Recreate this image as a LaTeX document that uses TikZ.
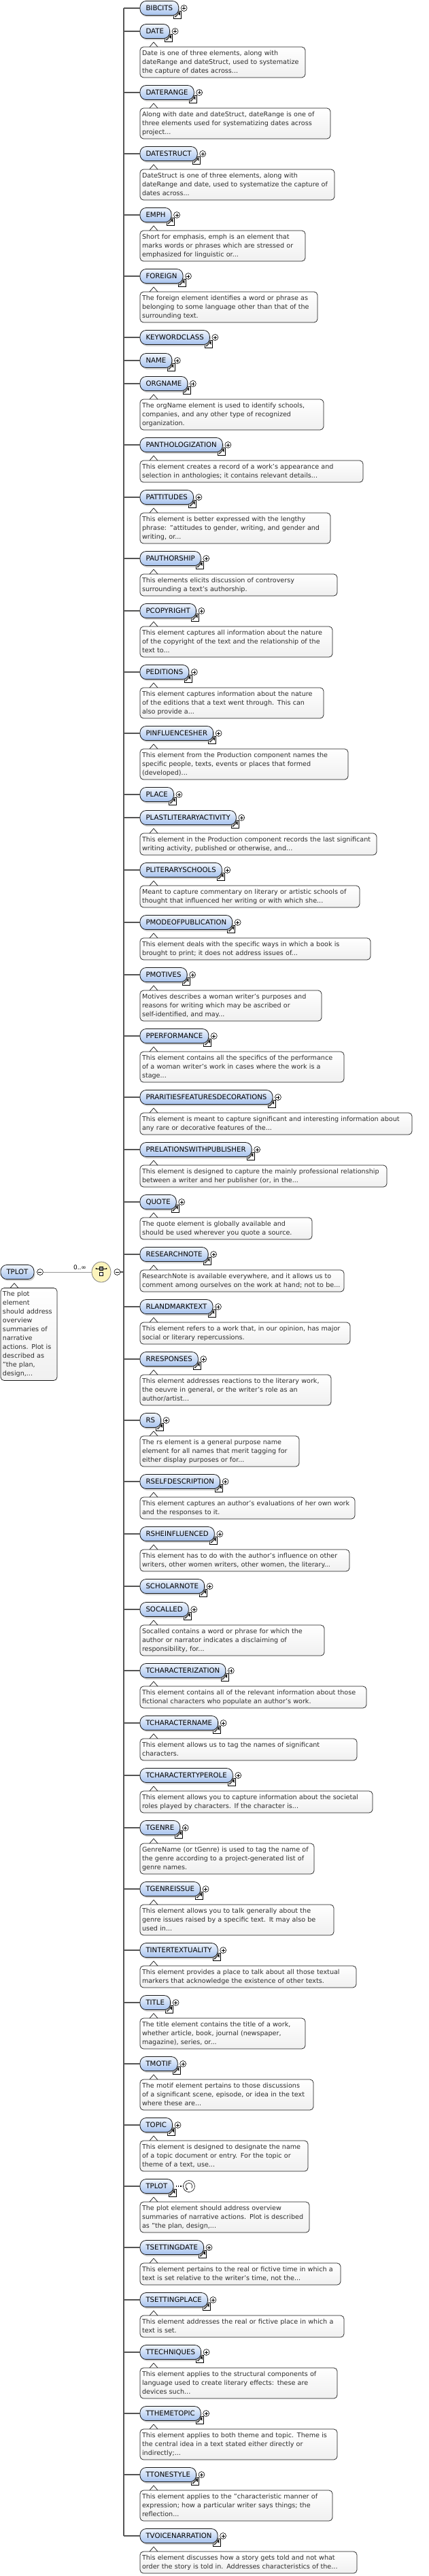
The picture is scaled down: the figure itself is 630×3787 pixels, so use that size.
\documentclass[tikz,border=0pt]{standalone}
\usepackage{fontspec}
\setmainfont{DejaVu Sans}
\usepackage{tikz}
\usetikzlibrary{shapes.geometric,shadows,arrows.meta,positioning}
\definecolor{pilltop}{RGB}{241,246,253}
\definecolor{pillbot}{RGB}{166,194,238}
\definecolor{docbot}{RGB}{240,240,240}
\definecolor{doctext}{RGB}{45,45,45}
\definecolor{trunkgray}{RGB}{85,85,85}
\definecolor{seqfill}{RGB}{252,244,188}

\begin{document}
\begin{tikzpicture}[
    x=1pt, y=1pt,
    pill/.style={draw=black!90, line width=0.8pt, rounded corners=9pt, top color=pilltop, bottom color=pillbot,
        minimum height=21pt, inner xsep=8.5pt, inner ysep=0pt, outer sep=0pt, text height=7.5pt, text depth=0pt,
        anchor=west, font=\fontsize{10.2}{12}\selectfont,
        drop shadow={shadow xshift=1.5pt, shadow yshift=-2.5pt, fill=black!35}},
    refmark/.style={append after command={\pgfextra{\let\pillnode\tikzlastnode
        \path ([xshift=-1.5pt,yshift=1pt]\pillnode.south east) coordinate (rm);
        \draw[fill=white, line width=0.6pt] ([shift={(-5.5pt,-5.5pt)}]rm) rectangle ([shift={(5.5pt,5.5pt)}]rm);
        \draw[line width=1.5pt] ([shift={(-3.5pt,-3.5pt)}]rm) -- ([shift={(1pt,1pt)}]rm);
        \fill ([shift={(3.8pt,3.8pt)}]rm) -- ([shift={(3.8pt,-1.4pt)}]rm) -- ([shift={(-1.4pt,3.8pt)}]rm) -- cycle;}}},
    plusmark/.style={append after command={\pgfextra{\let\pillnode\tikzlastnode
        \path ([xshift=8pt]\pillnode.east) coordinate (pm);
        \draw[fill=white, line width=0.6pt] (pm) circle[radius=4.5pt];
        \draw[line width=0.6pt] ([xshift=-2.5pt]pm) -- ([xshift=2.5pt]pm) ([yshift=-2.5pt]pm) -- ([yshift=2.5pt]pm);}}},
    elem/.style={pill, refmark, plusmark},
    doc/.style={draw=black!90, line width=0.7pt, rounded corners=5pt, top color=white, bottom color=docbot,
        anchor=north west, inner xsep=3pt, inner ysep=3pt, outer sep=0pt, align=left, text=doctext,
        font=\fontsize{9.6}{13}\selectfont, execute at begin node=\strut, execute at end node=\strut,
        append after command={\pgfextra{\let\docnode\tikzlastnode
        \fill[white] ([shift={(14.3pt,-0.6pt)}]\docnode.north west) -- ++(0,0.6) -- ++(5.7,6.4) -- ++(5.7,-6.4) -- ++(0,-0.6) -- cycle;
        \draw[line width=0.7pt, black!90] ([xshift=14pt]\docnode.north west) -- ++(6,7) -- ++(6,-7);}}},
    minus/.style={circle, draw, fill=white, line width=0.6pt, minimum size=9pt, inner sep=0pt,
        path picture={\draw[line width=0.6pt] ([xshift=-2.5pt]path picture bounding box.center) -- ([xshift=2.5pt]path picture bounding box.center);}},
    seqsym/.style={ellipse, draw=black!50, line width=0.8pt, fill=seqfill, minimum width=28pt, minimum height=30pt, inner sep=0pt},
    recur/.style={circle, draw, fill=white, line width=0.6pt, minimum size=17pt, inner sep=0pt},
    occurs/.style={font=\fontsize{9}{10}\selectfont, inner sep=0pt},
    trunk/.style={draw=trunkgray, line width=2pt},
    branch/.style={draw=trunkgray, line width=1.3pt},
    link/.style={draw=black!40, line width=0.6pt}
]
\useasboundingbox (0,0) rectangle (630,-3787);

% root element and sequence
\coordinate (trunktop) at (182,-12);
\coordinate (trunkbot) at (182,-3728);
\draw[trunk] (trunktop) -- (trunkbot);

\node[pill] (tplotroot) at (1,-1870) {TPLOT};
\node[minus] (rootminus) at ([xshift=9pt]tplotroot.east) {};
\node[doc, text width=77pt] (tplotrootdoc) at ([yshift=-13pt]tplotroot.south west) {The plot\\element\\should address\\overview\\summaries of\\narrative\\actions. Plot is\\described as\\"the plan,\\design,...};
\node[seqsym] (seq) at (149,-1870) {};
\node[minus] (seqminus) at ([xshift=9pt]seq.east) {};
\node[occurs] (occ) at (117.5,-1863) {0..∞};
\draw[link] (rootminus) -- (seq);
\draw[branch] (seqminus.east) -- (seqminus.east -| trunktop);
\draw[line width=0.6pt] ([shift={(-7.5pt,5pt)}]seq.center) -- ([shift={(7.5pt,5pt)}]seq.center);
\fill ([shift={(-7.5pt,5pt)}]seq.center) circle[radius=1.1pt] ([shift={(7.5pt,5pt)}]seq.center) circle[radius=1.1pt];
\draw[fill=black!45, line width=0.5pt] ([shift={(-2.5pt,2.5pt)}]seq.center) rectangle ([shift={(2.5pt,7.5pt)}]seq.center);
\draw[fill=white, line width=0.5pt] ([shift={(-2.5pt,-5.5pt)}]seq.center) rectangle ([shift={(2.5pt,-0.5pt)}]seq.center);

% children
\node[elem] (bibcits) at (206,-12) {BIBCITS};
\draw[branch] (bibcits.west -| trunktop) -- (bibcits.west);

\node[elem] (date) at (206,-46) {DATE};
\node[doc, text width=237pt] (datedoc) at ([yshift=-12.5pt]date.south west) {Date is one of three elements, along with\\dateRange and dateStruct, used to systematize\\the capture of dates across...};
\draw[branch] (date.west -| trunktop) -- (date.west);

\node[elem] (daterange) at (206,-136) {DATERANGE};
\node[doc, text width=274pt] (daterangedoc) at ([yshift=-12.5pt]daterange.south west) {Along with date and dateStruct, dateRange is one of\\three elements used for systematizing dates across\\project...};
\draw[branch] (daterange.west -| trunktop) -- (daterange.west);

\node[elem] (datestruct) at (206,-226) {DATESTRUCT};
\node[doc, text width=280pt] (datestructdoc) at ([yshift=-12.5pt]datestruct.south west) {DateStruct is one of three elements, along with\\dateRange and date, used to systematize the capture of\\dates across...};
\draw[branch] (datestruct.west -| trunktop) -- (datestruct.west);

\node[elem] (emph) at (206,-316) {EMPH};
\node[doc, text width=237pt] (emphdoc) at ([yshift=-12.5pt]emph.south west) {Short for emphasis, emph is an element that\\marks words or phrases which are stressed or\\emphasized for linguistic or...};
\draw[branch] (emph.west -| trunktop) -- (emph.west);

\node[elem] (foreign) at (206,-406) {FOREIGN};
\node[doc, text width=255pt] (foreigndoc) at ([yshift=-12.5pt]foreign.south west) {The foreign element identifies a word or phrase as\\belonging to some language other than that of the\\surrounding text.};
\draw[branch] (foreign.west -| trunktop) -- (foreign.west);

\node[elem] (keywordclass) at (206,-496) {KEYWORDCLASS};
\draw[branch] (keywordclass.west -| trunktop) -- (keywordclass.west);

\node[elem] (name) at (206,-530) {NAME};
\draw[branch] (name.west -| trunktop) -- (name.west);

\node[elem] (orgname) at (206,-564) {ORGNAME};
\node[doc, text width=264pt] (orgnamedoc) at ([yshift=-12.5pt]orgname.south west) {The orgName element is used to identify schools,\\companies, and any other type of recognized\\organization.};
\draw[branch] (orgname.west -| trunktop) -- (orgname.west);

\node[elem] (panthologization) at (206,-654) {PANTHOLOGIZATION};
\node[doc, text width=322pt] (panthologizationdoc) at ([yshift=-12.5pt]panthologization.south west) {This element creates a record of a work's appearance and\\selection in anthologies; it contains relevant details...};
\draw[branch] (panthologization.west -| trunktop) -- (panthologization.west);

\node[elem] (pattitudes) at (206,-731) {PATTITUDES};
\node[doc, text width=274pt] (pattitudesdoc) at ([yshift=-12.5pt]pattitudes.south west) {This element is better expressed with the lengthy\\phrase: "attitudes to gender, writing, and gender and\\writing, or...};
\draw[branch] (pattitudes.west -| trunktop) -- (pattitudes.west);

\node[elem] (pauthorship) at (206,-821) {PAUTHORSHIP};
\node[doc, text width=284pt] (pauthorshipdoc) at ([yshift=-12.5pt]pauthorship.south west) {This elements elicits discussion of controversy\\surrounding a text's authorship.};
\draw[branch] (pauthorship.west -| trunktop) -- (pauthorship.west);

\node[elem] (pcopyright) at (206,-898) {PCOPYRIGHT};
\node[doc, text width=277pt] (pcopyrightdoc) at ([yshift=-12.5pt]pcopyright.south west) {This element captures all information about the nature\\of the copyright of the text and the relationship of the\\text to...};
\draw[branch] (pcopyright.west -| trunktop) -- (pcopyright.west);

\node[elem] (peditions) at (206,-988) {PEDITIONS};
\node[doc, text width=264pt] (peditionsdoc) at ([yshift=-12.5pt]peditions.south west) {This element captures information about the nature\\of the editions that a text went through. This can\\also provide a...};
\draw[branch] (peditions.west -| trunktop) -- (peditions.west);

\node[elem] (pinfluencesher) at (206,-1078) {PINFLUENCESHER};
\node[doc, text width=300pt] (pinfluencesherdoc) at ([yshift=-12.5pt]pinfluencesher.south west) {This element from the Production component names the\\specific people, texts, events or places that formed\\(developed)...};
\draw[branch] (pinfluencesher.west -| trunktop) -- (pinfluencesher.west);

\node[elem] (place) at (206,-1168) {PLACE};
\draw[branch] (place.west -| trunktop) -- (place.west);

\node[elem] (plastliteraryactivity) at (206,-1202) {PLASTLITERARYACTIVITY};
\node[doc, text width=342pt] (plastliteraryactivitydoc) at ([yshift=-12.5pt]plastliteraryactivity.south west) {This element in the Production component records the last significant\\writing activity, published or otherwise, and...};
\draw[branch] (plastliteraryactivity.west -| trunktop) -- (plastliteraryactivity.west);

\node[elem] (pliteraryschools) at (206,-1279) {PLITERARYSCHOOLS};
\node[doc, text width=317pt] (pliteraryschoolsdoc) at ([yshift=-12.5pt]pliteraryschools.south west) {Meant to capture commentary on literary or artistic schools of\\thought that influenced her writing or with which she...};
\draw[branch] (pliteraryschools.west -| trunktop) -- (pliteraryschools.west);

\node[elem] (pmodeofpublication) at (206,-1356) {PMODEOFPUBLICATION};
\node[doc, text width=333pt] (pmodeofpublicationdoc) at ([yshift=-12.5pt]pmodeofpublication.south west) {This element deals with the specific ways in which a book is\\brought to print; it does not address issues of...};
\draw[branch] (pmodeofpublication.west -| trunktop) -- (pmodeofpublication.west);

\node[elem] (pmotives) at (206,-1433) {PMOTIVES};
\node[doc, text width=261pt] (pmotivesdoc) at ([yshift=-12.5pt]pmotives.south west) {Motives describes a woman writer's purposes and\\reasons for writing which may be ascribed or\\self-identified, and may...};
\draw[branch] (pmotives.west -| trunktop) -- (pmotives.west);

\node[elem] (pperformance) at (206,-1523) {PPERFORMANCE};
\node[doc, text width=294pt] (pperformancedoc) at ([yshift=-12.5pt]pperformance.south west) {This element contains all the specifics of the performance\\of a woman writer's work in cases where the work is a\\stage...};
\draw[branch] (pperformance.west -| trunktop) -- (pperformance.west);

\node[elem] (prarities) at (206,-1613) {PRARITIESFEATURESDECORATIONS};
\node[doc, text width=394pt] (praritiesdoc) at ([yshift=-12.5pt]prarities.south west) {This element is meant to capture significant and interesting information about\\any rare or decorative features of the...};
\draw[branch] (prarities.west -| trunktop) -- (prarities.west);

\node[elem] (prelations) at (206,-1690) {PRELATIONSWITHPUBLISHER};
\node[doc, text width=357pt] (prelationsdoc) at ([yshift=-12.5pt]prelations.south west) {This element is designed to capture the mainly professional relationship\\between a writer and her publisher (or, in the...};
\draw[branch] (prelations.west -| trunktop) -- (prelations.west);

\node[elem] (quote) at (206,-1767) {QUOTE};
\node[doc, text width=247pt] (quotedoc) at ([yshift=-12.5pt]quote.south west) {The quote element is globally available and\\should be used wherever you quote a source.};
\draw[branch] (quote.west -| trunktop) -- (quote.west);

\node[elem] (researchnote) at (206,-1844) {RESEARCHNOTE};
\node[doc, text width=294pt] (researchnotedoc) at ([yshift=-12.5pt]researchnote.south west) {ResearchNote is available everywhere, and it allows us to\\comment among ourselves on the work at hand; not to be...};
\draw[branch] (researchnote.west -| trunktop) -- (researchnote.west);

\node[elem] (rlandmarktext) at (206,-1921) {RLANDMARKTEXT};
\node[doc, text width=303pt] (rlandmarktextdoc) at ([yshift=-12.5pt]rlandmarktext.south west) {This element refers to a work that, in our opinion, has major\\social or literary repercussions.};
\draw[branch] (rlandmarktext.west -| trunktop) -- (rlandmarktext.west);

\node[elem] (rresponses) at (206,-1998) {RRESPONSES};
\node[doc, text width=275pt] (rresponsesdoc) at ([yshift=-12.5pt]rresponses.south west) {This element addresses reactions to the literary work,\\the oeuvre in general, or the writer's role as an\\author/artist...};
\draw[branch] (rresponses.west -| trunktop) -- (rresponses.west);

\node[elem] (rs) at (206,-2088) {RS};
\node[doc, text width=228pt] (rsdoc) at ([yshift=-12.5pt]rs.south west) {The rs element is a general purpose name\\element for all names that merit tagging for\\either display purposes or for...};
\draw[branch] (rs.west -| trunktop) -- (rs.west);

\node[elem] (rselfdescription) at (206,-2178) {RSELFDESCRIPTION};
\node[doc, text width=310pt] (rselfdescriptiondoc) at ([yshift=-12.5pt]rselfdescription.south west) {This element captures an author's evaluations of her own work\\and the responses to it.};
\draw[branch] (rselfdescription.west -| trunktop) -- (rselfdescription.west);

\node[elem] (rsheinfluenced) at (206,-2255) {RSHEINFLUENCED};
\node[doc, text width=302pt] (rsheinfluenceddoc) at ([yshift=-12.5pt]rsheinfluenced.south west) {This element has to do with the author's influence on other\\writers, other women writers, other women, the literary...};
\draw[branch] (rsheinfluenced.west -| trunktop) -- (rsheinfluenced.west);

\node[elem] (scholarnote) at (206,-2332) {SCHOLARNOTE};
\draw[branch] (scholarnote.west -| trunktop) -- (scholarnote.west);

\node[elem] (socalled) at (206,-2366) {SOCALLED};
\node[doc, text width=265pt] (socalleddoc) at ([yshift=-12.5pt]socalled.south west) {Socalled contains a word or phrase for which the\\author or narrator indicates a disclaiming of\\responsibility, for...};
\draw[branch] (socalled.west -| trunktop) -- (socalled.west);

\node[elem] (tcharacterization) at (206,-2456) {TCHARACTERIZATION};
\node[doc, text width=327pt] (tcharacterizationdoc) at ([yshift=-12.5pt]tcharacterization.south west) {This element contains all of the relevant information about those\\fictional characters who populate an author's work.};
\draw[branch] (tcharacterization.west -| trunktop) -- (tcharacterization.west);

\node[elem] (tcharactername) at (206,-2533) {TCHARACTERNAME};
\node[doc, text width=313pt] (tcharacternamedoc) at ([yshift=-12.5pt]tcharactername.south west) {This element allows us to tag the names of significant\\characters.};
\draw[branch] (tcharactername.west -| trunktop) -- (tcharactername.west);

\node[elem] (tcharactertyperole) at (206,-2610) {TCHARACTERTYPEROLE};
\node[doc, text width=336pt] (tcharactertyperoledoc) at ([yshift=-12.5pt]tcharactertyperole.south west) {This element allows you to capture information about the societal\\roles played by characters. If the character is...};
\draw[branch] (tcharactertyperole.west -| trunktop) -- (tcharactertyperole.west);

\node[elem] (tgenre) at (206,-2687) {TGENRE};
\node[doc, text width=250pt] (tgenredoc) at ([yshift=-12.5pt]tgenre.south west) {GenreName (or tGenre) is used to tag the name of\\the genre according to a project-generated list of\\genre names.};
\draw[branch] (tgenre.west -| trunktop) -- (tgenre.west);

\node[elem] (tgenreissue) at (206,-2777) {TGENREISSUE};
\node[doc, text width=279pt] (tgenreissuedoc) at ([yshift=-12.5pt]tgenreissue.south west) {This element allows you to talk generally about the\\genre issues raised by a specific text. It may also be\\used in...};
\draw[branch] (tgenreissue.west -| trunktop) -- (tgenreissue.west);

\node[elem] (tintertextuality) at (206,-2867) {TINTERTEXTUALITY};
\node[doc, text width=312pt] (tintertextualitydoc) at ([yshift=-12.5pt]tintertextuality.south west) {This element provides a place to talk about all those textual\\markers that acknowledge the existence of other texts.};
\draw[branch] (tintertextuality.west -| trunktop) -- (tintertextuality.west);

\node[elem] (title) at (206,-2944) {TITLE};
\node[doc, text width=237pt] (titledoc) at ([yshift=-12.5pt]title.south west) {The title element contains the title of a work,\\whether article, book, journal (newspaper,\\magazine), series, or...};
\draw[branch] (title.west -| trunktop) -- (title.west);

\node[elem] (tmotif) at (206,-3034) {TMOTIF};
\node[doc, text width=249pt] (tmotifdoc) at ([yshift=-12.5pt]tmotif.south west) {The motif element pertains to those discussions\\of a significant scene, episode, or idea in the text\\where these are...};
\draw[branch] (tmotif.west -| trunktop) -- (tmotif.west);

\node[elem] (topic) at (206,-3124) {TOPIC};
\node[doc, text width=241pt] (topicdoc) at ([yshift=-12.5pt]topic.south west) {This element is designed to designate the name\\of a topic document or entry. For the topic or\\theme of a text, use...};
\draw[branch] (topic.west -| trunktop) -- (topic.west);

\node[pill, refmark] (tplot) at (206,-3214) {TPLOT};
\node[recur] (tplotrec) at ([xshift=23pt]tplot.east) {};
\draw[line width=1.2pt, dotted] ([xshift=4pt]tplot.east) -- (tplotrec.west);
\draw[line width=0.6pt, -{Stealth[length=2.5pt,width=3pt]}] ([shift={(-40:5pt)}]tplotrec.center) arc[start angle=-40, end angle=250, radius=5pt];
\node[doc, text width=243pt] (tplotdoc) at ([yshift=-12.5pt]tplot.south west) {The plot element should address overview\\summaries of narrative actions. Plot is described\\as "the plan, design,...};
\draw[branch] (tplot.west -| trunktop) -- (tplot.west);

\node[elem] (tsettingdate) at (206,-3304) {TSETTINGDATE};
\node[doc, text width=289pt] (tsettingdatedoc) at ([yshift=-12.5pt]tsettingdate.south west) {This element pertains to the real or fictive time in which a\\text is set relative to the writer's time, not the...};
\draw[branch] (tsettingdate.west -| trunktop) -- (tsettingdate.west);

\node[elem] (tsettingplace) at (206,-3381) {TSETTINGPLACE};
\node[doc, text width=294pt] (tsettingplacedoc) at ([yshift=-12.5pt]tsettingplace.south west) {This element addresses the real or fictive place in which a\\text is set.};
\draw[branch] (tsettingplace.west -| trunktop) -- (tsettingplace.west);

\node[elem] (ttechniques) at (206,-3458) {TTECHNIQUES};
\node[doc, text width=284pt] (ttechniquesdoc) at ([yshift=-12.5pt]ttechniques.south west) {This element applies to the structural components of\\language used to create literary effects: these are\\devices such...};
\draw[branch] (ttechniques.west -| trunktop) -- (ttechniques.west);

\node[elem] (tthemetopic) at (206,-3548) {TTHEMETOPIC};
\node[doc, text width=284pt] (tthemetopicdoc) at ([yshift=-12.5pt]tthemetopic.south west) {This element applies to both theme and topic. Theme is\\the central idea in a text stated either directly or\\indirectly;...};
\draw[branch] (tthemetopic.west -| trunktop) -- (tthemetopic.west);

\node[elem] (ttonestyle) at (206,-3638) {TTONESTYLE};
\node[doc, text width=277pt] (ttonestyledoc) at ([yshift=-12.5pt]ttonestyle.south west) {This element applies to the "characteristic manner of\\expression; how a particular writer says things; the\\reflection...};
\draw[branch] (ttonestyle.west -| trunktop) -- (ttonestyle.west);

\node[elem] (tvoicenarration) at (206,-3728) {TVOICENARRATION};
\node[doc, text width=313pt] (tvoicenarrationdoc) at ([yshift=-12.5pt]tvoicenarration.south west) {This element discusses how a story gets told and not what\\order the story is told in. Addresses characteristics of the...};
\draw[branch] (tvoicenarration.west -| trunktop) -- (tvoicenarration.west);

\end{tikzpicture}
\end{document}
